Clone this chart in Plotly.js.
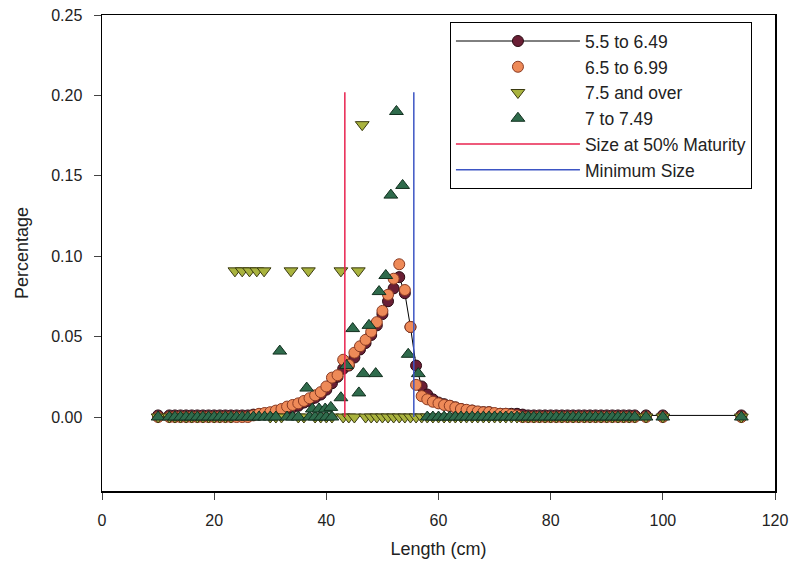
<!DOCTYPE html>
<html>
<head>
<meta charset="utf-8">
<script src="https://cdn.plot.ly/plotly-3.0.1.min.js"></script>
<style>html,body{margin:0;padding:0;background:#fff;}#chart{width:792px;height:574px;}</style>
</head>
<body>
<div id="chart"></div>
<script>
// Length bins (cm)
const lengthBins = [10,12,13,14,15,16,17,18,19,20,21,22,23,24,25,26,27,28,29,30,31,32,33,34,35,36,37,38,39,40,41,42,43,44,45,46,47,48,49,50,51,52,53,54,55,56,57,58,59,60,61,62,63,64,65,66,67,68,69,70,71,72,73,74,75,76,77,78,79,80,81,82,83,84,85,86,87,88,89,90,91,92,93,94,95,97,100,114];

// 5.5 to 6.49
const s1Y = [0.001,0.001,0.001,0.001,0.001,0.001,0.001,0.001,0.001,0.001,0.001,0.001,0.001,0.001,0.001,0.001,0.0015,0.0015,0.002,0.002,0.003,0.004,0.005,0.006,0.007,0.009,0.010,0.012,0.014,0.017,0.021,0.025,0.030,0.032,0.037,0.042,0.046,0.051,0.057,0.064,0.072,0.080,0.087,0.077,0.056,0.032,0.019,0.014,0.011,0.009,0.008,0.007,0.006,0.005,0.004,0.004,0.003,0.003,0.003,0.002,0.002,0.002,0.002,0.002,0.0015,0.001,0.001,0.001,0.001,0.001,0.001,0.001,0.001,0.001,0.001,0.001,0.001,0.001,0.001,0.001,0.001,0.001,0.001,0.001,0.001,0.001,0.001,0.001];

// 6.5 to 6.99
const s2Y = [0,0,0,0,0,0,0,0,0,0,0,0,0,0,0,0,0.001,0.002,0.0025,0.003,0.004,0.005,0.0065,0.0075,0.0085,0.010,0.0117,0.0135,0.0155,0.019,0.0245,0.026,0.0356,0.0325,0.040,0.044,0.048,0.053,0.059,0.066,0.076,0.086,0.095,0.079,0.056,0.020,0.013,0.011,0.0095,0.0085,0.0075,0.007,0.006,0.005,0.0045,0.004,0.0035,0.003,0.003,0.0025,0.002,0.002,0.0015,0.001,0,0,0,0,0,0,0,0,0,0,0,0,0,0,0,0,0,0,0,0,0,0,0,0];

// 7.5 and over
const s3X = [10,12,13,14,15,16,17,18,19,20,21,22,23,30,31,32,35,36,38,39,40,41,43,44,45,47,48,49,50,51,52,53,54,55,56,57,58,59,60,61,62,63,64,65,66,67,68,69,70,71,72,73,74,75,76,77,78,79,80,81,82,83,84,85,86,87,88,89,90,91,92,93,94,95,97,100,114,
             23.7,25.0,26.3,27.6,28.9,33.7,36.8,42.6,45.7,46.4];
const s3Y = [0,0,0,0,0,0,0,0,0,0,0,0,0,0,0,0,0,0,0,0,0,0,0,0,0,0,0,0,0,0,0,0,0,0,0,0,0,0,0,0,0,0,0,0,0,0,0,0,0,0,0,0,0,0,0,0,0,0,0,0,0,0,0,0,0,0,0,0,0,0,0,0,0,0,0,0,0,
             0.0909,0.0909,0.0909,0.0909,0.0909,0.0909,0.0909,0.0909,0.0909,0.1818];

// 7 to 7.49
const s4X = [10,12,13,14,15,16,17,18,19,20,21,22,23,24,25,26,27,28,29,30,31,33,34,35,37,38,39,40,41,58,59,60,61,62,63,64,65,66,67,68,69,70,71,72,73,74,75,76,77,78,79,80,81,82,83,84,85,86,87,88,89,90,91,92,93,94,95,97,100,114,
             31.7,36.5,37.5,38.7,39.8,40.8,42.6,43.6,44.7,45.8,46.6,47.6,48.8,49.4,50.6,51.5,52.5,53.6,54.6,56.4];
const s4Y = [0,0,0,0,0,0,0,0,0,0,0,0,0,0,0,0,0,0,0,0,0,0,0,0,0,0,0,0,0,0,0,0,0,0,0,0,0,0,0,0,0,0,0,0,0,0,0,0,0,0,0,0,0,0,0,0,0,0,0,0,0,0,0,0,0,0,0,0,0,0,
             0.041,0.018,0.005,0.005,0.005,0.006,0.012,0.032,0.055,0.015,0.027,0.057,0.027,0.078,0.088,0.138,0.190,0.144,0.039,0.027];

// Reference sizes
const maturityX = [43.3, 43.3];
const minimumX = [55.6, 55.6];
const refLineY = [0, 0.202];

const xTicks = [0,20,40,60,80,100,120];
const yTicks = [0.00,0.05,0.10,0.15,0.20,0.25];

const FONT = 'Arial, "Liberation Sans", sans-serif';

const traces = [
  {x: lengthBins, y: s1Y, name: '5.5 to 6.49', mode: 'lines+markers', type: 'scatter',
   line: {color: '#000000', width: 1},
   marker: {symbol: 'circle', size: 11, color: '#6a1f35', line: {color: '#2a0a12', width: 1}}},
  {x: lengthBins, y: s2Y, name: '6.5 to 6.99', mode: 'markers', type: 'scatter',
   marker: {symbol: 'circle', size: 11, color: '#ee8a58', line: {color: '#8a3a22', width: 1}}},
  {x: s3X, y: s3Y, name: '7.5 and over', mode: 'markers', type: 'scatter',
   marker: {symbol: 'triangle-down', size: 12, color: '#a9b33e', line: {color: '#3a3a10', width: 1}}},
  {x: s4X, y: s4Y, name: '7 to 7.49', mode: 'markers', type: 'scatter',
   marker: {symbol: 'triangle-up', size: 12, color: '#2f6b4c', line: {color: '#12301f', width: 1}}},
  {x: maturityX, y: refLineY, name: 'Size at 50% Maturity', mode: 'lines', type: 'scatter',
   line: {color: '#e8234f', width: 1.5}},
  {x: minimumX, y: refLineY, name: 'Minimum Size', mode: 'lines', type: 'scatter',
   line: {color: '#3d55c4', width: 1.5}}
];

const layout = {
  width: 792, height: 574,
  margin: {l: 102, r: 17, t: 15, b: 83},
  paper_bgcolor: '#ffffff', plot_bgcolor: '#ffffff',
  font: {family: FONT, size: 16, color: '#222'},
  showlegend: true,
  legend: {x: 0.517, y: 0.985, xanchor: 'left', yanchor: 'top',
           bgcolor: '#ffffff', bordercolor: '#000', borderwidth: 1,
           font: {family: FONT, size: 17.5, color: '#222'},
           itemwidth: 124, entrywidth: 292, tracegroupgap: 0},
  xaxis: {range: [0, 120], tickvals: xTicks, ticks: 'outside', ticklen: 7, tickwidth: 1,
          ticklabelstandoff: 7,
          showline: true, linecolor: '#000', linewidth: 1.5, mirror: true,
          showgrid: false, zeroline: false, tickfont: {family: FONT, size: 16, color: '#222'},
          title: {text: 'Length (cm)', font: {family: FONT, size: 18, color: '#222'}, standoff: 14}},
  yaxis: {range: [-0.046, 0.25], tickvals: yTicks, tickformat: '.2f', ticks: 'outside', ticklen: 7, tickwidth: 1,
          ticklabelstandoff: 8,
          showline: true, linecolor: '#000', linewidth: 1.5, mirror: true,
          showgrid: false, zeroline: false, tickfont: {family: FONT, size: 16, color: '#222'},
          title: {text: 'Percentage', font: {family: FONT, size: 18, color: '#222'}, standoff: 18}}
};

Plotly.newPlot('chart', traces, layout, {displayModeBar: false, staticPlot: true});
</script>
</body>
</html>
